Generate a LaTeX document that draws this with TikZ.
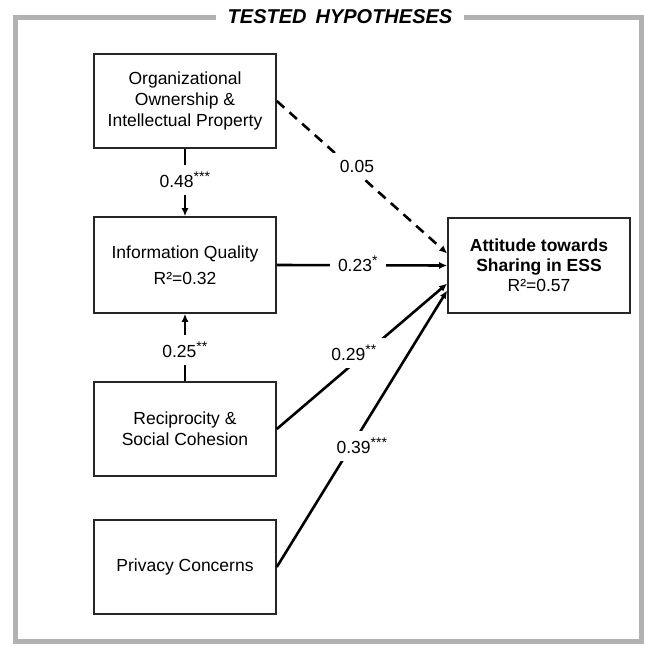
\documentclass[tikz,border=0pt]{standalone}
\usepackage{fontspec}
\setmainfont{Liberation Sans}
\usetikzlibrary{arrows.meta}
\begin{document}
\begin{tikzpicture}[x=1pt,y=-1pt,
  box/.style={draw=black!85, line width=1.6pt, fill=white, minimum width=182pt,
    minimum height=94pt, align=center, inner sep=0pt,
    font=\fontsize{17.5}{21}\selectfont},
  link/.style={line width=2.6pt, -{Latex[length=8pt,width=7pt]}},
  lbl/.style={fill=white, inner xsep=8pt, inner ysep=7pt,
    font=\fontsize{17.5}{20}\selectfont},
  frame/.style={draw=gray!60, line width=5pt}]
\useasboundingbox (0,0) rectangle (647,645);
% outer frame
\draw[frame] (15,17) rectangle (641,641);
\node[fill=white, inner xsep=12pt, inner ysep=2pt,
  font=\fontsize{20}{22}\selectfont\bfseries\itshape] (title) at (340,17)
  {TESTED\hspace{0.45em}HYPOTHESES};

% constructs
\node[box] (org) at (185,101) {Organizational\\Ownership \&\\Intellectual Property};
\node[box, minimum height=96pt] (iq) at (185,265) {Information Quality\\[5pt]R²=0.32};
\node[box] (rec) at (185,429) {Reciprocity \&\\Social Cohesion};
\node[box] (priv) at (185,567) {Privacy Concerns};
\node[box, minimum height=95pt, font=\fontsize{17.5}{20}\selectfont] (att) at (539,265.5)
  {\textbf{Attitude towards}\\\textbf{Sharing in ESS}\\R²=0.57};

% paths
\draw[link] (org) -- (iq);
\draw[link] (rec) -- (iq);
\draw[link, dash pattern=on 10pt off 7pt] (org.east) -- ([yshift=12pt]att.west);
\draw[link] (iq.east) -- (att.west);
\draw[link] (rec.east) -- ([yshift=-18pt]att.west);
\draw[link] (priv.east) -- ([yshift=-25pt]att.west);

% path coefficients
\newcommand{\stars}[1]{\textsuperscript{\fontsize{14}{14}\selectfont #1}}
\node[lbl] (c1) at (185,180) {0.48\stars{***}};
\node[lbl] (c2) at (185,350) {0.25\stars{**}};
\node[lbl] (c3) at (357,166) {0.05};
\node[lbl] (c4) at (358,264) {0.23\stars{*}};
\node[lbl] (c5) at (354,353) {0.29\stars{**}};
\node[lbl] (c6) at (362,446) {0.39\stars{***}};
\end{tikzpicture}
\end{document}
